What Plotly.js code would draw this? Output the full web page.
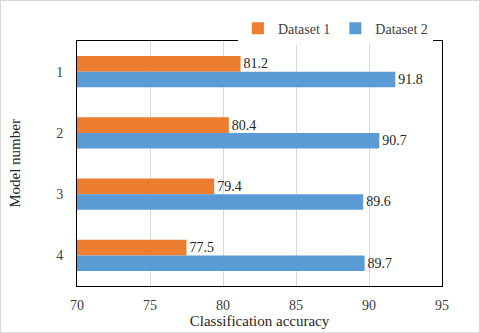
<!DOCTYPE html>
<html>
<head>
<meta charset="utf-8">
<script src="https://cdn.plot.ly/plotly-3.0.1.min.js"></script>
<style>
  html, body { margin: 0; padding: 0; background: #fff; }
  #chart { width: 478px; height: 331px; border: 1px solid #d9d9d9; }
</style>
</head>
<body>
<div id="chart"></div>
<script>
        var models = ['1', '2', '3', '4'];
        var dataset1 = [81.2, 80.4, 79.4, 77.5];
        var dataset2 = [91.8, 90.7, 89.6, 89.7];
        var xTicks = [70, 75, 80, 85, 90, 95];
        var axisMin = 70;

        var serif = '"Liberation Serif", "Times New Roman", serif';

        // bars start at the axis minimum: length = value - 70, base = 70
        function makeTrace(values, name, color) {
            return {
                y: models,
                x: values.map(function (v) { return v - axisMin; }),
                base: axisMin,
                name: name,
                type: 'bar',
                orientation: 'h',
                text: values.map(function (v) { return v.toFixed(1); }),
                textposition: 'outside',
                cliponaxis: false,
                textfont: {family: serif, size: 14, color: '#262626'},
                hoverinfo: 'skip',
                marker: {color: color}
            };
        }

        var trace1 = makeTrace(dataset1, 'Dataset 1', '#ED7D31');
        var trace2 = makeTrace(dataset2, 'Dataset 2', '#5B9BD5');

        var layout = {
            width: 478,
            height: 331,
            margin: {l: 76, r: 37, t: 25, b: 46},
            barmode: 'group',
            bargap: 0.49,
            bargroupgap: 0,
            font: {family: serif, size: 14, color: '#404040'},
            paper_bgcolor: '#fff',
            plot_bgcolor: '#fff',
            showlegend: true,
            legend: {
                orientation: 'h',
                x: 0.975, xanchor: 'right',
                y: 1.05, yanchor: 'middle',
                font: {family: serif, size: 14, color: '#404040'},
                itemwidth: 30,
                tracegroupgap: 0
            },
            xaxis: {
                range: [70, 95],
                tickvals: xTicks,
                showgrid: true,
                gridcolor: '#d9d9d9',
                showline: true,
                mirror: true,
                linecolor: '#000',
                linewidth: 1,
                zeroline: false,
                ticks: '',
                ticklabelstandoff: 6,
                title: {text: 'Classification accuracy', font: {family: serif, size: 15, color: '#262626'}, standoff: 3}
            },
            yaxis: {
                type: 'category',
                autorange: 'reversed',
                showline: true,
                mirror: true,
                linecolor: '#000',
                linewidth: 1,
                showgrid: false,
                ticks: '',
                ticklabelstandoff: 10,
                title: {text: 'Model number', font: {family: serif, size: 15, color: '#262626'}, standoff: 31}
            }
        };

        Plotly.newPlot('chart', [trace1, trace2], layout, {displayModeBar: false});
</script>
</body>
</html>
